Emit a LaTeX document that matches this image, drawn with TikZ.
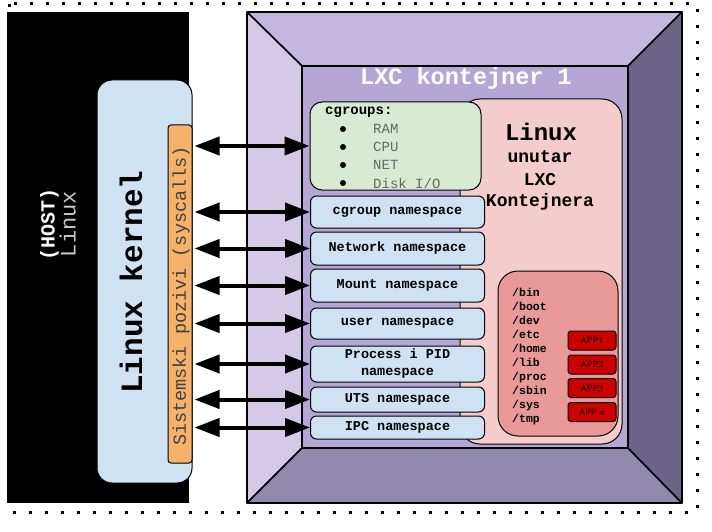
\documentclass[tikz,border=0pt]{standalone}
\usepackage{fontspec}
\setmainfont{Liberation Sans}
\setmonofont{Liberation Mono}
\usetikzlibrary{arrows.meta}
\newcommand\fsz[2]{\fontsize{#1}{#2}\selectfont}
\definecolor{kblue}{HTML}{CFE2F3}
\definecolor{sysorange}{HTML}{F6B26B}
\definecolor{cgreen}{HTML}{D9EAD3}
\definecolor{pinkbg}{HTML}{F4CCCC}
\definecolor{fsred}{HTML}{EA9999}
\definecolor{appred}{HTML}{CC0000}
\definecolor{ftop}{HTML}{C3B7DD}
\definecolor{fleft}{HTML}{D4CAE8}
\definecolor{fbottom}{HTML}{9189AB}
\definecolor{fright}{HTML}{6B6487}
\definecolor{ffront}{HTML}{B4A7D6}
\tikzset{
  box/.style={draw=black, line width=1pt, inner sep=0pt},
  ns/.style={box, rounded corners=6pt, fill=kblue, minimum width=174pt,
    font=\ttfamily\bfseries\fsz{13.5}{17}, align=center, anchor=west},
  app/.style={box, rounded corners=3pt, fill=appred, minimum width=48pt,
    minimum height=19pt, font=\sffamily\fsz{9}{10}},
  face/.style={draw=black, line width=1.6pt, line join=round},
  arr/.style={line width=4pt, shorten <=2pt,
    {Triangle[length=25pt,width=18pt]}-{Triangle[length=25pt,width=18pt]}},
  cgitem/.style={anchor=west, font=\ttfamily\fsz{14}{16}, text=black!60, inner sep=0pt},
}
\begin{document}
\begin{tikzpicture}[x=1pt,y=-1pt]
\useasboundingbox (0,0) rectangle (712,532);
% dotted frame
\draw[line width=3pt, dash pattern=on 3pt off 13pt] (9,4) rectangle (697,512);
% host
\fill[black] (7,12) rectangle (189,503);
\node[rotate=90, align=center, inner sep=0pt] (host) at (58,224)
  {{\ttfamily\bfseries\fsz{20}{30}\color{white}(HOST)}\\
   {\ttfamily\fsz{22}{30}\color{black!22}Linux}};
% kernel
\node[box, rounded corners=15pt, fill=kblue, minimum width=95pt, minimum height=403pt] (kern) at (144.5,281.5) {};
\node[rotate=90, font=\ttfamily\bfseries\fsz{31}{34}] (kerntxt) at (131,282) {Linux kernel};
\node[box, rounded corners=3pt, fill=sysorange, minimum width=24pt, minimum height=338pt] (sys) at (180,294) {};
\node[rotate=90, font=\ttfamily\fsz{18.5}{20}, text=black!75] (systxt) at (181,296) {Sistemski pozivi (syscalls)};
% container
\coordinate (otl) at (247,12); \coordinate (otr) at (682,12);
\coordinate (obl) at (247,503); \coordinate (obr) at (682,503);
\coordinate (itl) at (302,66); \coordinate (itr) at (628,66);
\coordinate (ibl) at (302,448); \coordinate (ibr) at (628,448);
\filldraw[face, fill=ftop] (otl) -- (otr) -- (itr) -- (itl) -- cycle;
\filldraw[face, fill=fleft] (otl) -- (itl) -- (ibl) -- (obl) -- cycle;
\filldraw[face, fill=fbottom] (obl) -- (ibl) -- (ibr) -- (obr) -- cycle;
\filldraw[face, fill=fright] (otr) -- (obr) -- (ibr) -- (itr) -- cycle;
\filldraw[face, fill=ffront] (itl) rectangle (ibr);
\node[font=\ttfamily\bfseries\fsz{23.5}{26}, text=white] (title) at (466,78) {LXC kontejner 1};
% linux inside container
\node[box, rounded corners=20pt, fill=pinkbg, minimum width=162pt, minimum height=345pt] (pink) at (541,271.5) {};
\node[font=\ttfamily\bfseries\fsz{24}{26}] (l1) at (541,132) {Linux};
\node[font=\ttfamily\bfseries\fsz{18}{20}] (l2) at (540,157) {unutar};
\node[font=\ttfamily\bfseries\fsz{18}{20}] (l3) at (540,180) {LXC};
\node[font=\ttfamily\bfseries\fsz{18}{20}] (l4) at (540,202) {Kontejnera};
\node[box, rounded corners=20pt, fill=fsred, minimum width=120pt, minimum height=165pt] (fs) at (558,353.5) {};
\node[anchor=west, align=left, inner sep=0pt, font=\ttfamily\bfseries\fsz{11.5}{14}] (paths) at (512,357)
  {/bin\\/boot\\/dev\\/etc\\/home\\/lib\\/proc\\/sbin\\/sys\\/tmp};
\node[app] (app1) at (592,340.5) {APP1};
\node[app] (app2) at (592,364.5) {APP2};
\node[app] (app3) at (592,388) {APP3};
\node[app] (appn) at (592,412) {APP n};
% cgroups
\node[box, rounded corners=12pt, fill=cgreen, minimum width=171pt, minimum height=88pt] (cgr) at (395.5,146) {};
\node[anchor=west, inner sep=0pt, font=\ttfamily\bfseries\fsz{14}{16}] (cgt) at (325,112) {cgroups:};
\foreach \y/\t/\n in {129/RAM/ram,147/CPU/cpu,165/NET/net,183/Disk I\slash O/disk}{
  \fill (343,\y) circle (3pt);
  \node[cgitem] (\n) at (373,\y) {\t};
}
% namespaces
\node[ns, minimum height=32pt] (cgns) at (310,212) {cgroup namespace};
\node[ns, minimum height=33pt] (netns) at (310,248.5) {Network namespace};
\node[ns, minimum height=33pt] (mntns) at (310,285.5) {Mount namespace};
\node[ns, minimum height=31pt] (userns) at (310,323.5) {user namespace};
\node[ns, minimum height=36pt] (pidns) at (310,364) {Process i PID\\namespace};
\node[ns, minimum height=25pt] (utsns) at (310,399.5) {UTS namespace};
\node[ns, minimum height=23pt] (ipcns) at (310,427.5) {IPC namespace};
% arrows
\foreach \n in {cgr,cgns,netns,mntns,userns,pidns,utsns,ipcns}{
  \draw[arr] (\n.west -| sys.east) -- (\n.west);
}
\end{tikzpicture}
\end{document}
